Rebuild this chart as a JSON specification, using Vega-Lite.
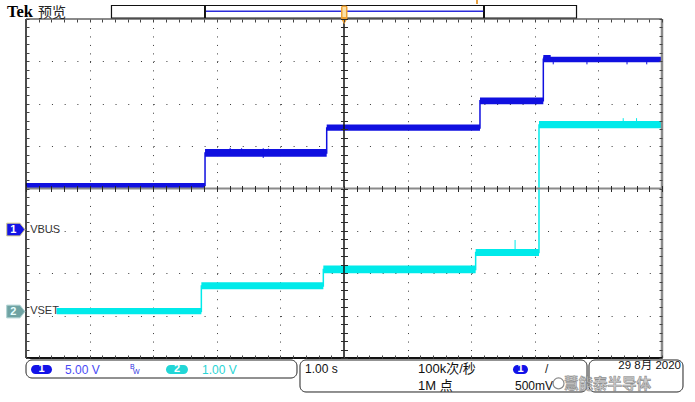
{
  "$schema": "https://vega.github.io/schema/vega-lite/v6.json",
  "width": 636,
  "height": 339,
  "autosize": {"type": "none"},
  "padding": {"left": 26, "top": 19, "right": 33, "bottom": 44},
  "background": "#ffffff",
  "config": {"view": {"stroke": null}},
  "data": {"name": "anchor"},
  "datasets": {
    "anchor": [{"t": 0, "v": 0}],
    "bands": [
      {"ch": "CH1", "t0": 0, "t1": 2.815, "lo": 0.01, "hi": 0.13},
      {"ch": "CH1", "t0": 2.815, "t1": 4.728, "lo": 0.75, "hi": 0.93},
      {"ch": "CH1", "t0": 4.728, "t1": 7.138, "lo": 1.36, "hi": 1.51},
      {"ch": "CH1", "t0": 7.138, "t1": 8.134, "lo": 1.99, "hi": 2.15},
      {"ch": "CH1", "t0": 8.134, "t1": 10, "lo": 2.98, "hi": 3.11},
      {"ch": "CH1", "t0": 8.134, "t1": 8.25, "lo": 3.05, "hi": 3.15},
      {"ch": "CH2", "t0": 0.482, "t1": 2.757, "lo": -2.97, "hi": -2.82},
      {"ch": "CH2", "t0": 2.757, "t1": 4.675, "lo": -2.38, "hi": -2.21},
      {"ch": "CH2", "t0": 4.675, "t1": 7.07, "lo": -2.0, "hi": -1.82},
      {"ch": "CH2", "t0": 7.07, "t1": 8.066, "lo": -1.59, "hi": -1.43},
      {"ch": "CH2", "t0": 8.066, "t1": 10, "lo": 1.42, "hi": 1.59}
    ],
    "trace": [
      {"ch": "CH1", "i": 0, "t": 0, "v": 0.07},
      {"ch": "CH1", "i": 1, "t": 2.815, "v": 0.07},
      {"ch": "CH1", "i": 2, "t": 2.815, "v": 0.84},
      {"ch": "CH1", "i": 3, "t": 4.728, "v": 0.84},
      {"ch": "CH1", "i": 4, "t": 4.728, "v": 1.43},
      {"ch": "CH1", "i": 5, "t": 7.138, "v": 1.43},
      {"ch": "CH1", "i": 6, "t": 7.138, "v": 2.07},
      {"ch": "CH1", "i": 7, "t": 8.134, "v": 2.07},
      {"ch": "CH1", "i": 8, "t": 8.134, "v": 3.05},
      {"ch": "CH1", "i": 9, "t": 10, "v": 3.05},
      {"ch": "CH2", "i": 0, "t": 0.482, "v": -2.9},
      {"ch": "CH2", "i": 1, "t": 2.757, "v": -2.9},
      {"ch": "CH2", "i": 2, "t": 2.757, "v": -2.3},
      {"ch": "CH2", "i": 3, "t": 4.675, "v": -2.3},
      {"ch": "CH2", "i": 4, "t": 4.675, "v": -1.91},
      {"ch": "CH2", "i": 5, "t": 7.07, "v": -1.91},
      {"ch": "CH2", "i": 6, "t": 7.07, "v": -1.51},
      {"ch": "CH2", "i": 7, "t": 8.066, "v": -1.51},
      {"ch": "CH2", "i": 8, "t": 8.066, "v": 1.5},
      {"ch": "CH2", "i": 9, "t": 10, "v": 1.5}
    ],
    "spikes": [
      {"ch": "CH1", "t": 3.21, "lo": 0.84, "hi": 0.96},
      {"ch": "CH1", "t": 3.39, "lo": 0.84, "hi": 0.95},
      {"ch": "CH1", "t": 3.73, "lo": 0.72, "hi": 0.95},
      {"ch": "CH1", "t": 3.81, "lo": 0.84, "hi": 0.94},
      {"ch": "CH1", "t": 8.29, "lo": 2.93, "hi": 3.04},
      {"ch": "CH1", "t": 8.82, "lo": 2.93, "hi": 3.04},
      {"ch": "CH1", "t": 9.45, "lo": 2.93, "hi": 3.04},
      {"ch": "CH1", "t": 9.76, "lo": 2.93, "hi": 3.04},
      {"ch": "CH2", "t": 7.69, "lo": -1.51, "hi": -1.215},
      {"ch": "CH2", "t": 9.39, "lo": 1.5, "hi": 1.66},
      {"ch": "CH2", "t": 9.6, "lo": 1.5, "hi": 1.66}
    ]
  },
  "resolve": {"axis": {"x": "independent", "y": "independent"}},
  "layer": [
    {
      "mark": {"type": "point", "opacity": 0},
      "encoding": {
        "x": {"field": "t", "type": "quantitative", "scale": {"domain": [0, 10], "nice": false, "zero": false},
          "axis": {"orient": "bottom", "values": [1, 2, 3, 4, 6, 7, 8, 9], "grid": true, "gridColor": "#3a3a3a", "gridDash": [1, 7.475], "gridWidth": 1, "domain": false, "ticks": false, "labels": false, "title": null, "zindex": 0}},
        "y": {"field": "v", "type": "quantitative", "scale": {"domain": [-4, 4], "nice": false, "zero": false},
          "axis": {"orient": "left", "values": [-3, -2, -1, 1, 2, 3], "grid": true, "gridColor": "#3a3a3a", "gridDash": [1, 11.72], "gridWidth": 1, "domain": false, "ticks": false, "labels": false, "title": null, "zindex": 0}}
      }
    },
    {
      "data": {"name": "bands"},
      "mark": {"type": "rect"},
      "encoding": {
        "x": {"field": "t0", "type": "quantitative", "axis": null},
        "x2": {"field": "t1"},
        "y": {"field": "lo", "type": "quantitative", "axis": null},
        "y2": {"field": "hi"},
        "color": {"field": "ch", "type": "nominal", "scale": {"domain": ["CH1", "CH2"], "range": ["#1010e0", "#00eaea"]}, "legend": null}
      }
    },
    {
      "data": {"name": "trace"},
      "mark": {"type": "line", "strokeWidth": 1.5},
      "encoding": {
        "x": {"field": "t", "type": "quantitative", "axis": null},
        "y": {"field": "v", "type": "quantitative", "axis": null},
        "color": {"field": "ch", "type": "nominal", "legend": null},
        "order": {"field": "i", "type": "quantitative"}
      }
    },
    {
      "data": {"name": "spikes"},
      "mark": {"type": "rule", "strokeWidth": 1},
      "encoding": {
        "x": {"field": "t", "type": "quantitative", "axis": null},
        "y": {"field": "lo", "type": "quantitative", "axis": null},
        "y2": {"field": "hi"},
        "color": {"field": "ch", "type": "nominal", "legend": null}
      }
    },
    {"mark": {"type": "rule", "color": "#111111", "strokeWidth": 1.5}, "encoding": {"x": {"datum": 5, "type": "quantitative", "axis": null}}},
    {"mark": {"type": "rule", "color": "#8a8a8a", "strokeWidth": 2}, "encoding": {"y": {"datum": 0, "type": "quantitative", "axis": null}}},
    {"mark": {"type": "rule", "color": "#111111", "strokeWidth": 1.5}, "encoding": {"x": {"datum": 0, "type": "quantitative", "axis": null}}},
    {"mark": {"type": "rule", "color": "#8a8a8a", "strokeWidth": 2.5}, "encoding": {"x": {"datum": 10, "type": "quantitative", "axis": null}}},
    {"mark": {"type": "rule", "color": "#8a8a8a", "strokeWidth": 2}, "encoding": {"y": {"datum": 4, "type": "quantitative", "axis": null}}},
    {"mark": {"type": "rule", "color": "#111111", "strokeWidth": 2}, "encoding": {"y": {"datum": -4, "type": "quantitative", "axis": null}}},
    {
      "mark": {"type": "point", "opacity": 0},
      "encoding": {
        "x": {"field": "t", "type": "quantitative",
          "axis": {"orient": "bottom", "offset": -172.5, "values": [0,0.2,0.4,0.6,0.8,1,1.2,1.4,1.6,1.8,2,2.2,2.4,2.6,2.8,3,3.2,3.4,3.6,3.8,4,4.2,4.4,4.6,4.8,5,5.2,5.4,5.6,5.8,6,6.2,6.4,6.6,6.8,7,7.2,7.4,7.6,7.8,8,8.2,8.4,8.6,8.8,9,9.2,9.4,9.6,9.8,10], "ticks": true, "tickSize": 6, "tickColor": "#2a2a2a", "tickWidth": 1, "domain": false, "labels": false, "grid": false, "title": null, "zindex": 1}},
        "y": {"field": "v", "type": "quantitative",
          "axis": {"orient": "left", "offset": -321.5, "values": [-4,-3.8,-3.6,-3.4,-3.2,-3,-2.8,-2.6,-2.4,-2.2,-2,-1.8,-1.6,-1.4,-1.2,-1,-0.8,-0.6,-0.4,-0.2,0,0.2,0.4,0.6,0.8,1,1.2,1.4,1.6,1.8,2,2.2,2.4,2.6,2.8,3,3.2,3.4,3.6,3.8,4], "ticks": true, "tickSize": 7, "tickColor": "#2a2a2a", "tickWidth": 1, "domain": false, "labels": false, "grid": false, "title": null, "zindex": 1}}
      }
    },
    {
      "mark": {"type": "point", "opacity": 0},
      "encoding": {
        "x": {"field": "t", "type": "quantitative",
          "axis": {"orient": "top", "offset": -3, "values": [0,0.2,0.4,0.6,0.8,1,1.2,1.4,1.6,1.8,2,2.2,2.4,2.6,2.8,3,3.2,3.4,3.6,3.8,4,4.2,4.4,4.6,4.8,5,5.2,5.4,5.6,5.8,6,6.2,6.4,6.6,6.8,7,7.2,7.4,7.6,7.8,8,8.2,8.4,8.6,8.8,9,9.2,9.4,9.6,9.8,10], "ticks": true, "tickSize": 3, "tickColor": "#444444", "tickWidth": 1, "domain": false, "labels": false, "grid": false, "title": null, "zindex": 1}},
        "y": {"field": "v", "type": "quantitative",
          "axis": {"orient": "left", "offset": -3, "values": [-4,-3.8,-3.6,-3.4,-3.2,-3,-2.8,-2.6,-2.4,-2.2,-2,-1.8,-1.6,-1.4,-1.2,-1,-0.8,-0.6,-0.4,-0.2,0,0.2,0.4,0.6,0.8,1,1.2,1.4,1.6,1.8,2,2.2,2.4,2.6,2.8,3,3.2,3.4,3.6,3.8,4], "ticks": true, "tickSize": 3, "tickColor": "#444444", "tickWidth": 1, "domain": false, "labels": false, "grid": false, "title": null, "zindex": 1}}
      }
    },
    {
      "mark": {"type": "point", "opacity": 0},
      "encoding": {
        "x": {"field": "t", "type": "quantitative",
          "axis": {"orient": "bottom", "offset": -3, "values": [0,0.2,0.4,0.6,0.8,1,1.2,1.4,1.6,1.8,2,2.2,2.4,2.6,2.8,3,3.2,3.4,3.6,3.8,4,4.2,4.4,4.6,4.8,5,5.2,5.4,5.6,5.8,6,6.2,6.4,6.6,6.8,7,7.2,7.4,7.6,7.8,8,8.2,8.4,8.6,8.8,9,9.2,9.4,9.6,9.8,10], "ticks": true, "tickSize": 3, "tickColor": "#444444", "tickWidth": 1, "domain": false, "labels": false, "grid": false, "title": null, "zindex": 1}},
        "y": {"field": "v", "type": "quantitative",
          "axis": {"orient": "right", "offset": -3, "values": [-4,-3.8,-3.6,-3.4,-3.2,-3,-2.8,-2.6,-2.4,-2.2,-2,-1.8,-1.6,-1.4,-1.2,-1,-0.8,-0.6,-0.4,-0.2,0,0.2,0.4,0.6,0.8,1,1.2,1.4,1.6,1.8,2,2.2,2.4,2.6,2.8,3,3.2,3.4,3.6,3.8,4], "ticks": true, "tickSize": 3, "tickColor": "#444444", "tickWidth": 1, "domain": false, "labels": false, "grid": false, "title": null, "zindex": 1}}
      }
    },
    {"mark": {"type": "text", "text": "Tek", "align": "left", "baseline": "alphabetic", "font": "Liberation Serif", "fontSize": 16.5, "fontWeight": "bold", "color": "#000000"}, "encoding": {"x": {"datum": -0.299, "type": "quantitative", "axis": null}, "y": {"datum": 4.047, "type": "quantitative", "axis": null}}},
    {"mark": {"type": "text", "text": "预览", "align": "left", "baseline": "alphabetic", "font": "Noto Sans CJK SC", "fontSize": 14, "color": "#222222"}, "encoding": {"x": {"datum": 0.19, "type": "quantitative", "axis": null}, "y": {"datum": 4.04, "type": "quantitative", "axis": null}}},
    {"mark": {"type": "rect", "fill": "#ffffff", "stroke": "#111111", "strokeWidth": 1.2}, "encoding": {"x": {"datum": 1.344, "type": "quantitative", "axis": null}, "x2": {"datum": 8.656}, "y": {"datum": 4.319, "type": "quantitative", "axis": null}, "y2": {"datum": 4.024}}},
    {"mark": {"type": "rule", "color": "#111111", "strokeWidth": 2}, "encoding": {"x": {"datum": 2.814, "type": "quantitative", "axis": null}, "y": {"datum": 4.319, "type": "quantitative", "axis": null}, "y2": {"datum": 4.024}}},
    {"mark": {"type": "rule", "color": "#111111", "strokeWidth": 2}, "encoding": {"x": {"datum": 7.201, "type": "quantitative", "axis": null}, "y": {"datum": 4.319, "type": "quantitative", "axis": null}, "y2": {"datum": 4.024}}},
    {"mark": {"type": "rule", "color": "#2b2bd9", "strokeWidth": 1.5}, "encoding": {"x": {"datum": 2.83, "type": "quantitative", "axis": null}, "x2": {"datum": 7.19}, "y": {"datum": 4.182, "type": "quantitative", "axis": null}}},
    {"mark": {"type": "rect", "fill": "#f0a030", "cornerRadius": 2}, "encoding": {"x": {"datum": 4.953, "type": "quantitative", "axis": null}, "x2": {"datum": 5.055}, "y": {"datum": 4.319, "type": "quantitative", "axis": null}, "y2": {"datum": 3.988}}},
    {"mark": {"type": "rect", "fill": "#fbe0a8"}, "encoding": {"x": {"datum": 4.976, "type": "quantitative", "axis": null}, "x2": {"datum": 5.031}, "y": {"datum": 4.284, "type": "quantitative", "axis": null}, "y2": {"datum": 4.047}}},
    {"mark": {"type": "point", "shape": "triangle-down", "filled": true, "fill": "#f0a030", "size": 45, "opacity": 1}, "encoding": {"x": {"datum": 5.003, "type": "quantitative", "axis": null}, "y": {"datum": 3.945, "type": "quantitative", "axis": null}}},
    {"mark": {"type": "rule", "color": "#e8a040", "strokeWidth": 2}, "encoding": {"x": {"datum": 7.091, "type": "quantitative", "axis": null}, "y": {"datum": 4.448, "type": "quantitative", "axis": null}, "y2": {"datum": 4.354}}},
    {"mark": {"type": "point", "shape": "M-1,-0.7L0.45,-0.7L1,0L0.45,0.7L-1,0.7Z", "size": 330, "filled": true, "fill": "#1414e6", "stroke": "#d6cf8a", "strokeWidth": 1, "opacity": 1}, "encoding": {"x": {"datum": -0.16, "type": "quantitative", "axis": null}, "y": {"datum": -0.968, "type": "quantitative", "axis": null}}},
    {"mark": {"type": "text", "text": "1", "align": "center", "baseline": "middle", "font": "Liberation Sans", "fontSize": 11, "fontWeight": "bold", "color": "#ffffff"}, "encoding": {"x": {"datum": -0.2, "type": "quantitative", "axis": null}, "y": {"datum": -0.968, "type": "quantitative", "axis": null}}},
    {"mark": {"type": "text", "text": "VBUS", "align": "left", "baseline": "middle", "font": "Liberation Sans", "fontSize": 11, "color": "#333333"}, "encoding": {"x": {"datum": 0.065, "type": "quantitative", "axis": null}, "y": {"datum": -0.968, "type": "quantitative", "axis": null}}},
    {"mark": {"type": "point", "shape": "M-1,-0.7L0.45,-0.7L1,0L0.45,0.7L-1,0.7Z", "size": 330, "filled": true, "fill": "#6fa3a3", "stroke": "#a9cfcf", "strokeWidth": 1, "opacity": 1}, "encoding": {"x": {"datum": -0.16, "type": "quantitative", "axis": null}, "y": {"datum": -2.903, "type": "quantitative", "axis": null}}},
    {"mark": {"type": "text", "text": "2", "align": "center", "baseline": "middle", "font": "Liberation Sans", "fontSize": 11, "fontWeight": "bold", "color": "#e8ffff"}, "encoding": {"x": {"datum": -0.2, "type": "quantitative", "axis": null}, "y": {"datum": -2.903, "type": "quantitative", "axis": null}}},
    {"mark": {"type": "text", "text": "VSET", "align": "left", "baseline": "middle", "font": "Liberation Sans", "fontSize": 11, "color": "#333333"}, "encoding": {"x": {"datum": 0.065, "type": "quantitative", "axis": null}, "y": {"datum": -2.891, "type": "quantitative", "axis": null}}},
    {"mark": {"type": "rect", "fill": "#ffffff", "stroke": "#222222", "strokeWidth": 1, "cornerRadius": 6}, "encoding": {"x": {"datum": 0, "type": "quantitative", "axis": null}, "x2": {"datum": 4.261}, "y": {"datum": -4.047, "type": "quantitative", "axis": null}, "y2": {"datum": -4.472}}},
    {"mark": {"type": "rect", "fill": "#1212e8", "cornerRadius": 5}, "encoding": {"x": {"datum": 0.079, "type": "quantitative", "axis": null}, "x2": {"datum": 0.409}, "y": {"datum": -4.165, "type": "quantitative", "axis": null}, "y2": {"datum": -4.378}}},
    {"mark": {"type": "text", "text": "1", "align": "center", "baseline": "middle", "font": "Liberation Sans", "fontSize": 11, "fontWeight": "bold", "color": "#ffffff"}, "encoding": {"x": {"datum": 0.244, "type": "quantitative", "axis": null}, "y": {"datum": -4.271, "type": "quantitative", "axis": null}}},
    {"mark": {"type": "text", "text": "5.00 V", "align": "left", "baseline": "middle", "font": "Liberation Sans", "fontSize": 12, "color": "#4a4af5"}, "encoding": {"x": {"datum": 0.613, "type": "quantitative", "axis": null}, "y": {"datum": -4.283, "type": "quantitative", "axis": null}}},
    {"mark": {"type": "text", "text": "B", "align": "left", "baseline": "middle", "font": "Liberation Sans", "fontSize": 7, "color": "#3030e0"}, "encoding": {"x": {"datum": 1.635, "type": "quantitative", "axis": null}, "y": {"datum": -4.201, "type": "quantitative", "axis": null}}},
    {"mark": {"type": "text", "text": "W", "align": "left", "baseline": "middle", "font": "Liberation Sans", "fontSize": 7, "color": "#3030e0"}, "encoding": {"x": {"datum": 1.682, "type": "quantitative", "axis": null}, "y": {"datum": -4.33, "type": "quantitative", "axis": null}}},
    {"mark": {"type": "rect", "fill": "#22d6d6", "cornerRadius": 5}, "encoding": {"x": {"datum": 2.201, "type": "quantitative", "axis": null}, "x2": {"datum": 2.547}, "y": {"datum": -4.165, "type": "quantitative", "axis": null}, "y2": {"datum": -4.378}}},
    {"mark": {"type": "text", "text": "2", "align": "center", "baseline": "middle", "font": "Liberation Sans", "fontSize": 11, "fontWeight": "bold", "color": "#ffffff"}, "encoding": {"x": {"datum": 2.374, "type": "quantitative", "axis": null}, "y": {"datum": -4.271, "type": "quantitative", "axis": null}}},
    {"mark": {"type": "text", "text": "1.00 V", "align": "left", "baseline": "middle", "font": "Liberation Sans", "fontSize": 12, "color": "#2ad4d4"}, "encoding": {"x": {"datum": 2.767, "type": "quantitative", "axis": null}, "y": {"datum": -4.283, "type": "quantitative", "axis": null}}},
    {"mark": {"type": "rect", "fill": "#ffffff", "stroke": "#222222", "strokeWidth": 1, "cornerRadius": 6}, "encoding": {"x": {"datum": 4.308, "type": "quantitative", "axis": null}, "x2": {"datum": 8.821}, "y": {"datum": -4.047, "type": "quantitative", "axis": null}, "y2": {"datum": -4.802}}},
    {"mark": {"type": "text", "text": "1.00 s", "align": "left", "baseline": "middle", "font": "Liberation Sans", "fontSize": 12, "color": "#111111"}, "encoding": {"x": {"datum": 4.387, "type": "quantitative", "axis": null}, "y": {"datum": -4.271, "type": "quantitative", "axis": null}}},
    {"mark": {"type": "text", "text": "100k次/秒", "align": "left", "baseline": "middle", "font": "Liberation Sans, Noto Sans CJK SC", "fontSize": 13, "color": "#111111"}, "encoding": {"x": {"datum": 6.164, "type": "quantitative", "axis": null}, "y": {"datum": -4.271, "type": "quantitative", "axis": null}}},
    {"mark": {"type": "text", "text": "1M 点", "align": "left", "baseline": "middle", "font": "Liberation Sans, Noto Sans CJK SC", "fontSize": 13, "color": "#111111"}, "encoding": {"x": {"datum": 6.164, "type": "quantitative", "axis": null}, "y": {"datum": -4.649, "type": "quantitative", "axis": null}}},
    {"mark": {"type": "rect", "fill": "#1212e8", "cornerRadius": 5}, "encoding": {"x": {"datum": 7.657, "type": "quantitative", "axis": null}, "x2": {"datum": 7.893}, "y": {"datum": -4.165, "type": "quantitative", "axis": null}, "y2": {"datum": -4.378}}},
    {"mark": {"type": "text", "text": "1", "align": "center", "baseline": "middle", "font": "Liberation Sans", "fontSize": 11, "fontWeight": "bold", "color": "#ffffff"}, "encoding": {"x": {"datum": 7.775, "type": "quantitative", "axis": null}, "y": {"datum": -4.271, "type": "quantitative", "axis": null}}},
    {"mark": {"type": "text", "text": "/", "align": "left", "baseline": "middle", "font": "Liberation Sans", "fontSize": 12, "color": "#222222"}, "encoding": {"x": {"datum": 8.16, "type": "quantitative", "axis": null}, "y": {"datum": -4.259, "type": "quantitative", "axis": null}}},
    {"mark": {"type": "text", "text": "500mV", "align": "left", "baseline": "middle", "font": "Liberation Sans", "fontSize": 12, "color": "#111111"}, "encoding": {"x": {"datum": 7.689, "type": "quantitative", "axis": null}, "y": {"datum": -4.649, "type": "quantitative", "axis": null}}},
    {"mark": {"type": "rect", "fill": "#ffffff", "stroke": "#222222", "strokeWidth": 1, "cornerRadius": 6}, "encoding": {"x": {"datum": 8.852, "type": "quantitative", "axis": null}, "x2": {"datum": 10.33}, "y": {"datum": -4.047, "type": "quantitative", "axis": null}, "y2": {"datum": -4.802}}},
    {"mark": {"type": "text", "text": "29 8月 2020", "align": "right", "baseline": "middle", "font": "Liberation Sans, Noto Sans CJK SC", "fontSize": 11.5, "color": "#111111"}, "encoding": {"x": {"datum": 10.299, "type": "quantitative", "axis": null}, "y": {"datum": -4.2, "type": "quantitative", "axis": null}}},
    {"mark": {"type": "point", "shape": "circle", "size": 120, "filled": true, "fill": "#ffffff", "fillOpacity": 0.7, "stroke": "#8a8a8a", "strokeWidth": 1.2, "opacity": 1}, "encoding": {"x": {"datum": 8.373, "type": "quantitative", "axis": null}, "y": {"datum": -4.6, "type": "quantitative", "axis": null}}},
    {"mark": {"type": "text", "text": "慧能泰半导体", "align": "left", "baseline": "middle", "font": "Noto Sans CJK SC", "fontSize": 14.5, "fontWeight": "bold", "color": "#c4c4c4", "stroke": "#7a7a7a", "strokeWidth": 0.6, "opacity": 0.85}, "encoding": {"x": {"datum": 8.459, "type": "quantitative", "axis": null}, "y": {"datum": -4.64, "type": "quantitative", "axis": null}}}
  ]
}
